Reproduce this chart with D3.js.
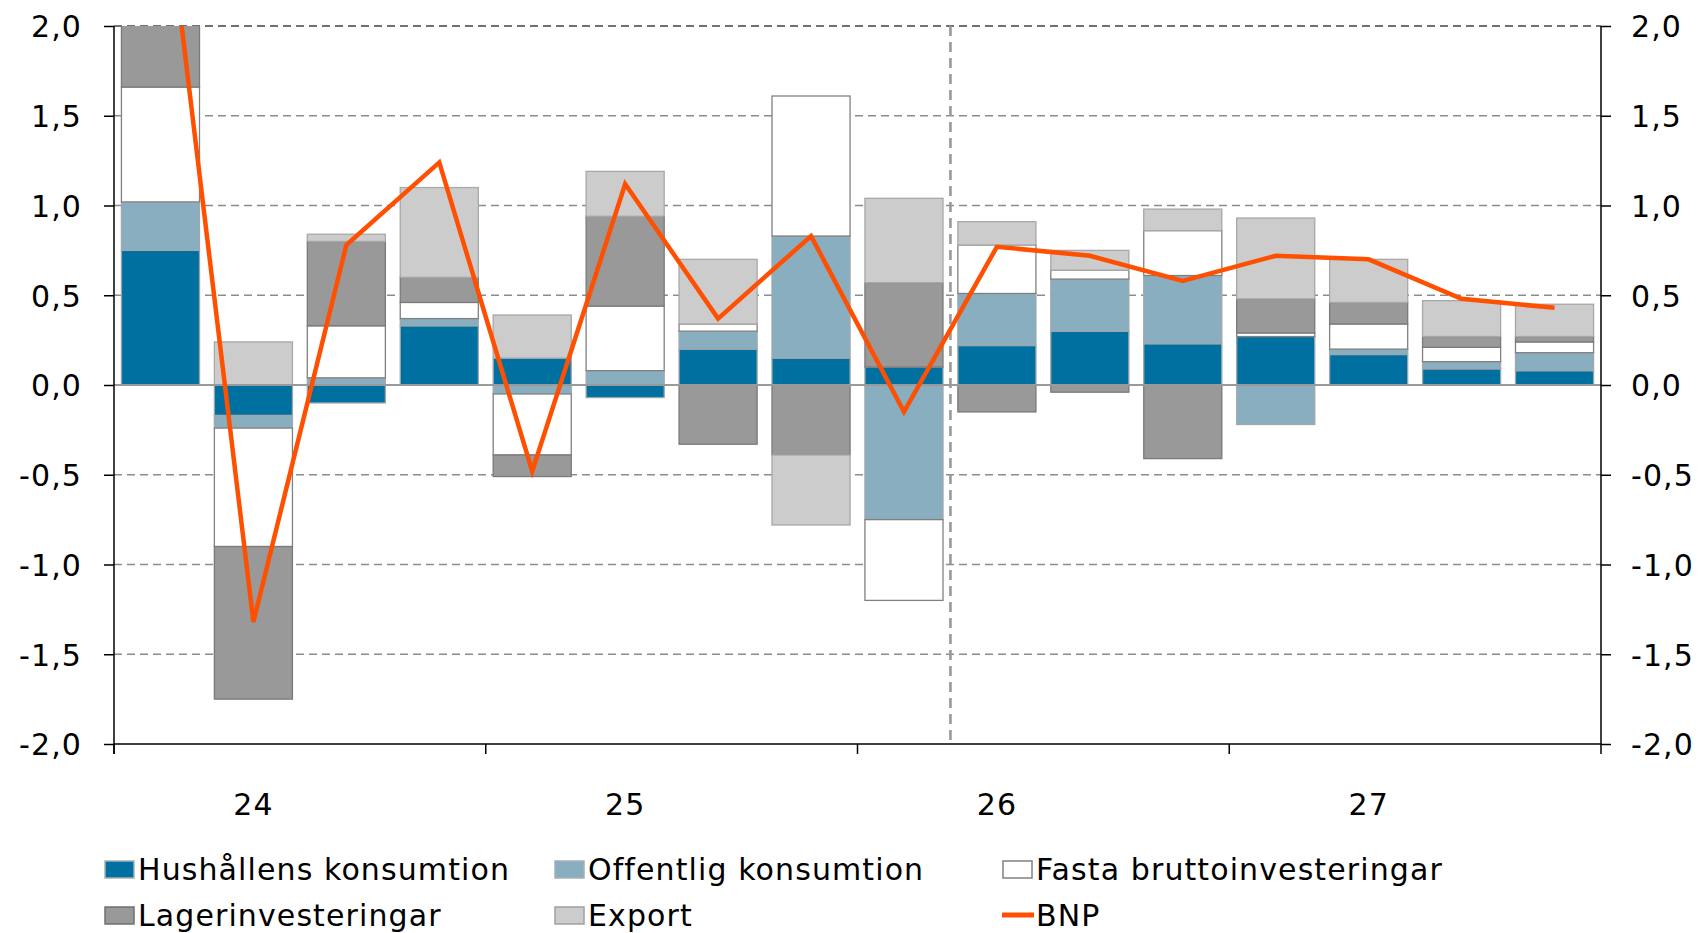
<!DOCTYPE html>
<html>
<head>
<meta charset="utf-8">
<script src="https://cdn.jsdelivr.net/npm/d3@7"></script>
<style>
  body { margin: 0; background: #fff; }
  svg text { font-family: "DejaVu Sans", Verdana, sans-serif; fill: #000; letter-spacing: 1.1px; }
</style>
</head>
<body>
<div id="chart"></div>
<script>
// quarters 2024K1 .. 2027K4
const quarters = ["24K1","24K2","24K3","24K4","25K1","25K2","25K3","25K4",
                  "26K1","26K2","26K3","26K4","27K1","27K2","27K3","27K4"];
const yearLabels = ["24", "25", "26", "27"];

const hushall   = [0.75, -0.17, -0.10, 0.33, 0.15, -0.07, 0.20, 0.15, 0.10, 0.22, 0.30, 0.23, 0.27, 0.17, 0.09, 0.08];
const offentlig = [0.27, -0.07, 0.04, 0.04, -0.05, 0.08, 0.10, 0.68, -0.75, 0.29, 0.29, 0.38, -0.22, 0.03, 0.04, 0.10];
const fasta     = [0.64, -0.66, 0.29, 0.09, -0.34, 0.36, 0.04, 0.78, -0.45, 0.27, 0.05, 0.25, 0.02, 0.14, 0.08, 0.06];
const lager     = [0.50, -0.85, 0.47, 0.14, -0.12, 0.50, -0.33, -0.39, 0.47, -0.15, -0.04, -0.41, 0.19, 0.12, 0.06, 0.03];
const exportv   = [0.10, 0.24, 0.04, 0.50, 0.24, 0.25, 0.36, -0.39, 0.47, 0.13, 0.11, 0.12, 0.45, 0.24, 0.20, 0.18];
const bnp       = [2.98, -1.32, 0.78, 1.24, -0.48, 1.12, 0.37, 0.83, -0.15, 0.77, 0.72, 0.58, 0.72, 0.70, 0.48, 0.43];

const yTicks = [-2, -1.5, -1, -0.5, 0, 0.5, 1, 1.5, 2];

const series = [
  { key: "hush", label: "Hushållens konsumtion", values: hushall, fill: "#0070a0", stroke: "#9aa4aa" },
  { key: "off", label: "Offentlig konsumtion", values: offentlig, fill: "#88aec0", stroke: "#a0a8ac" },
  { key: "fasta", label: "Fasta bruttoinvesteringar", values: fasta, fill: "#ffffff", stroke: "#808080" },
  { key: "lager", label: "Lagerinvesteringar", values: lager, fill: "#999999", stroke: "#7a7a7a" },
  { key: "exp", label: "Export", values: exportv, fill: "#cccccc", stroke: "#a8a8a8" }
];

const width = 1703, height = 933;
const plot = { left: 114, right: 1601, top: 26, bottom: 744 };

const svg = d3.select("#chart").append("svg")
  .attr("width", width)
  .attr("height", height);

const x = d3.scaleBand()
  .domain(quarters)
  .range([plot.left, plot.right])
  .paddingInner(0.16)
  .paddingOuter(0.08);

const y = d3.scaleLinear()
  .domain([-2, 2])
  .range([plot.bottom, plot.top]);

const fmt = d => d.toFixed(1).replace(".", ",");

svg.append("clipPath").attr("id", "clip")
  .append("rect")
  .attr("x", plot.left).attr("y", plot.top)
  .attr("width", plot.right - plot.left).attr("height", plot.bottom - plot.top);

// gridlines
svg.append("g")
  .selectAll("line")
  .data(yTicks.filter(d => d !== 0 && d !== -2))
  .enter().append("line")
  .attr("x1", plot.left).attr("x2", plot.right)
  .attr("y1", d => y(d)).attr("y2", d => y(d))
  .attr("stroke", d => d === 2 ? "#444" : "#8c8c8c")
  .attr("stroke-width", 1.5)
  .attr("stroke-dasharray", "8,5");

// stacked bars
const table = quarters.map((q, i) => {
  const row = { q: q };
  series.forEach(s => row[s.key] = s.values[i]);
  return row;
});

const stacked = d3.stack()
  .keys(series.map(s => s.key))
  .offset(d3.stackOffsetDiverging)(table);

const bars = svg.append("g").attr("clip-path", "url(#clip)");

stacked.forEach((layer, li) => {
  const s = series[li];
  bars.append("g")
    .selectAll("rect")
    .data(layer)
    .enter().append("rect")
    .attr("x", d => x(d.data.q))
    .attr("width", x.bandwidth())
    .attr("y", d => y(Math.max(d[0], d[1])))
    .attr("height", d => Math.abs(y(d[0]) - y(d[1])))
    .attr("fill", s.fill)
    .attr("stroke", s.stroke)
    .attr("stroke-width", 1.3);
});

// zero line
svg.append("line")
  .attr("x1", plot.left).attr("x2", plot.right)
  .attr("y1", y(0)).attr("y2", y(0))
  .attr("stroke", "#9a9a9a")
  .attr("stroke-width", 2.2);

// forecast divider between 26K1 and 26K2
const divX = (x("26K1") + x.bandwidth() + x("26K2")) / 2;
svg.append("line")
  .attr("x1", divX).attr("x2", divX)
  .attr("y1", plot.top).attr("y2", plot.bottom)
  .attr("stroke", "#999")
  .attr("stroke-width", 2.6)
  .attr("stroke-dasharray", "10,6");

// BNP line
const line = d3.line()
  .x((d, i) => x(quarters[i]) + x.bandwidth() / 2)
  .y(d => y(d));

svg.append("path")
  .datum(bnp)
  .attr("clip-path", "url(#clip)")
  .attr("d", line)
  .attr("fill", "none")
  .attr("stroke", "#ff4f00")
  .attr("stroke-width", 4.5)
  .attr("stroke-linejoin", "miter");

// left axis
const leftAxis = svg.append("g")
  .attr("transform", `translate(${plot.left},0)`)
  .call(d3.axisLeft(y).tickValues(yTicks).tickSize(10).tickSizeOuter(0).tickPadding(22).tickFormat(fmt));
leftAxis.select(".domain").remove();
leftAxis.selectAll("line").attr("stroke", "#000").attr("stroke-width", 1.5);
leftAxis.selectAll("text").style("font-size", "30px").attr("dy", "0.36em");
svg.append("line")
  .attr("x1", plot.left).attr("x2", plot.left)
  .attr("y1", plot.top).attr("y2", plot.bottom + 10)
  .attr("stroke", "#000").attr("stroke-width", 1.5);

// right axis
const rightAxis = svg.append("g")
  .attr("transform", `translate(${plot.right},0)`)
  .call(d3.axisRight(y).tickValues(yTicks).tickSize(10).tickSizeOuter(0).tickPadding(20).tickFormat(fmt));
rightAxis.select(".domain").remove();
rightAxis.selectAll("line").attr("stroke", "#000").attr("stroke-width", 1.5);
rightAxis.selectAll("text").style("font-size", "30px").attr("dy", "0.36em");
svg.append("line")
  .attr("x1", plot.right).attr("x2", plot.right)
  .attr("y1", plot.top).attr("y2", plot.bottom + 10)
  .attr("stroke", "#000").attr("stroke-width", 1.5);

// bottom axis
svg.append("line")
  .attr("x1", plot.left).attr("x2", plot.right)
  .attr("y1", plot.bottom).attr("y2", plot.bottom)
  .attr("stroke", "#000").attr("stroke-width", 1.5);

const yearStart = quarters.filter((q, i) => i % 4 === 0);
svg.append("g")
  .selectAll("line")
  .data(yearStart)
  .enter().append("line")
  .attr("x1", d => x(d) - x.step() * x.paddingInner() / 2)
  .attr("x2", d => x(d) - x.step() * x.paddingInner() / 2)
  .attr("y1", plot.bottom).attr("y2", plot.bottom + 10)
  .attr("stroke", "#000").attr("stroke-width", 1.5);

svg.append("g")
  .selectAll("text")
  .data(yearLabels)
  .enter().append("text")
  .attr("x", (d, i) => x(quarters[i * 4 + 1]) + x.bandwidth() / 2)
  .attr("y", 815)
  .attr("text-anchor", "middle")
  .style("font-size", "30px")
  .text(d => d);

// legend
const legendItems = [
  { label: series[0].label, fill: series[0].fill, stroke: "#a8b0b4", col: 0, row: 0 },
  { label: series[1].label, fill: series[1].fill, stroke: "#a8b0b4", col: 1, row: 0 },
  { label: series[2].label, fill: series[2].fill, stroke: "#808080", col: 2, row: 0 },
  { label: series[3].label, fill: series[3].fill, stroke: "#707070", col: 0, row: 1 },
  { label: series[4].label, fill: series[4].fill, stroke: "#a0a0a0", col: 1, row: 1 },
  { label: "BNP", line: "#ff4f00", col: 2, row: 1 }
];
const colX = [104, 554, 1002];
const rowY = [869, 915];

const legend = svg.append("g");
legendItems.forEach(it => {
  const g = legend.append("g")
    .attr("transform", `translate(${colX[it.col]},${rowY[it.row]})`);
  if (it.line) {
    g.append("line")
      .attr("x1", 0).attr("x2", 32)
      .attr("y1", 0).attr("y2", 0)
      .attr("stroke", it.line).attr("stroke-width", 5);
  } else {
    g.append("rect")
      .attr("x", 1).attr("y", -8)
      .attr("width", 29).attr("height", 17)
      .attr("fill", it.fill)
      .attr("stroke", it.stroke).attr("stroke-width", 1.5);
  }
  g.append("text")
    .attr("x", 34)
    .attr("y", 0)
    .attr("dy", "0.36em")
    .style("font-size", "30px")
    .text(it.label);
});
</script>
</body>
</html>
